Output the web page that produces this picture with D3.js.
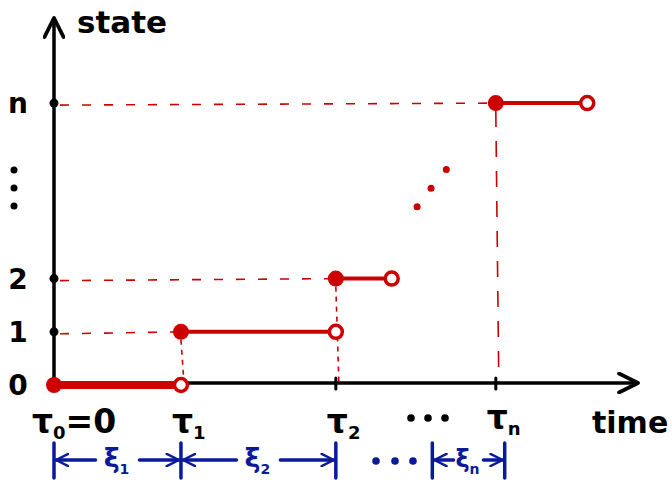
<!DOCTYPE html>
<html>
<head>
<meta charset="utf-8">
<script src="https://cdn.jsdelivr.net/npm/d3@7"></script>
<style>
  body { margin: 0; background: #fff; }
  svg { display: block; }
  text { font-family: "DejaVu Sans", sans-serif; font-weight: bold; }
</style>
</head>
<body>
<div id="chart"></div>
<script>
// states reached at each jump (n drawn well above 2, with a gap)
const stateLabels = ["0", "1", "2", "n"];
const stateLevels = [0, 1, 2, 5.3];
// jump times tau_0 .. tau_n and where each held segment ends
const tauLabels = [["τ", "0", "=0"], ["τ", "1", ""], ["τ", "2", ""], ["τ", "n", ""]];
const jumpTimes = [0, 1, 2.22, 3.48];
const segmentEnds = [1, 2.22, 2.66, 4.2];
// holding time brackets  xi_1, xi_2, xi_n
const holdLabels = ["1", "2", "n"];
const holdStarts = [0, 1, 2.98];
const holdEnds = [1, 2.22, 3.55];

const W = 672, H = 490;
const red = "#cc0000", blue = "#0a1a9a";

const svg = d3.select("#chart").append("svg")
    .attr("width", W).attr("height", H);

const x = d3.scaleLinear().domain([0, 4.6]).range([54, 638]);
const y = d3.scaleLinear().domain([0, 6.9]).range([385, 18]);

// arrow markers
const defs = svg.append("defs");
function arrowMarker(id, color, size) {
    defs.append("marker")
        .attr("id", id)
        .attr("viewBox", "0 0 12 12")
        .attr("refX", 11).attr("refY", 6)
        .attr("markerWidth", size).attr("markerHeight", size)
        .attr("markerUnits", "strokeWidth")
        .attr("orient", "auto-start-reverse")
        .append("path")
        .attr("d", "M1,1 L11,6 L1,11")
        .attr("fill", "none")
        .attr("stroke", color)
        .attr("stroke-width", 2)
        .attr("stroke-linecap", "round")
        .attr("stroke-linejoin", "round");
}
arrowMarker("ax", "black", 6.5);
arrowMarker("bl", blue, 4.2);

// dashed guides: horizontal from the axis, vertical down to the jump time
const guides = svg.append("g")
    .attr("stroke", red)
    .attr("stroke-width", 1.6)
    .attr("fill", "none")
    .attr("stroke-dasharray", "9,13");

guides.selectAll("line.h")
    .data(d3.range(1, stateLevels.length))
    .join("line")
    .attr("class", "h")
    .attr("x1", x(0) + 6).attr("x2", i => x(jumpTimes[i]))
    .attr("y1", i => y(stateLevels[i]) + 2).attr("y2", i => y(stateLevels[i]));

guides.selectAll("line.v")
    .data(d3.range(1, stateLevels.length))
    .join("line")
    .attr("class", "v")
    .attr("stroke-dasharray", i => i === 3 ? "16,14" : "5,5")
    .attr("x1", i => x(jumpTimes[i])).attr("x2", i => x(jumpTimes[i]) + 3)
    .attr("y1", i => y(stateLevels[i]) + 8).attr("y2", y(0) - 3);

// axes
svg.append("line")
    .attr("x1", x(0)).attr("x2", x(4.6))
    .attr("y1", y(0) - 2).attr("y2", y(0) - 2)
    .attr("stroke", "black").attr("stroke-width", 3.5)
    .attr("marker-end", "url(#ax)");
svg.append("line")
    .attr("x1", x(0)).attr("x2", x(0))
    .attr("y1", y(0) + 4).attr("y2", y(6.9))
    .attr("stroke", "black").attr("stroke-width", 3.5)
    .attr("marker-end", "url(#ax)");

svg.append("text").attr("x", 77).attr("y", 33)
    .attr("font-size", 31).text("state");
svg.append("text").attr("x", 592).attr("y", 433)
    .attr("font-size", 30).text("time");

// y tick dots and labels
svg.selectAll("circle.ytick")
    .data(stateLevels.slice(1))
    .join("circle")
    .attr("class", "ytick")
    .attr("cx", x(0)).attr("cy", d => y(d))
    .attr("r", 4.5).attr("fill", "black");

svg.selectAll("text.ylab")
    .data(stateLabels)
    .join("text")
    .attr("class", "ylab")
    .attr("x", 18).attr("y", (d, i) => y(stateLevels[i]))
    .attr("dy", "0.36em")
    .attr("text-anchor", "middle")
    .attr("font-size", 28)
    .text(d => d);

// vertical ellipsis on the y axis
svg.selectAll("circle.vdots")
    .data([170, 188, 206])
    .join("circle")
    .attr("class", "vdots")
    .attr("cx", 14).attr("cy", d => d)
    .attr("r", 3.5).attr("fill", "black");

// x tick marks
svg.selectAll("line.xtick")
    .data(jumpTimes.slice(2))
    .join("line")
    .attr("class", "xtick")
    .attr("x1", d => x(d)).attr("x2", d => x(d))
    .attr("y1", y(0) - 7).attr("y2", y(0) + 4)
    .attr("stroke", "black").attr("stroke-width", 3)
    .attr("stroke-linecap", "round");

// tau labels
const tl = svg.selectAll("text.tau")
    .data(tauLabels)
    .join("text")
    .attr("class", "tau")
    .attr("x", (d, i) => i === 0 ? 32 : x(jumpTimes[i]) - 9)
    .attr("y", (d, i) => i === 3 ? 429 : 433)
    .attr("font-size", 33);
tl.append("tspan").text(d => d[0]);
tl.append("tspan").attr("font-size", 18).attr("dy", 6).text(d => d[1]);
tl.append("tspan").attr("dy", -6).text(d => d[2]);

// horizontal ellipsis under the time axis
svg.selectAll("circle.xdots")
    .data([411, 428, 445])
    .join("circle")
    .attr("class", "xdots")
    .attr("cx", d => d).attr("cy", 418)
    .attr("r", 3.8).attr("fill", "black");

// step segments
svg.selectAll("line.seg")
    .data(d3.range(stateLevels.length))
    .join("line")
    .attr("class", "seg")
    .attr("x1", i => x(jumpTimes[i])).attr("x2", i => x(segmentEnds[i]))
    .attr("y1", i => y(stateLevels[i])).attr("y2", i => y(stateLevels[i]))
    .attr("stroke", red)
    .attr("stroke-width", i => i === 0 ? 8 : 4)
    .attr("stroke-linecap", "round");

svg.selectAll("circle.closed")
    .data(d3.range(stateLevels.length))
    .join("circle")
    .attr("class", "closed")
    .attr("cx", i => x(jumpTimes[i])).attr("cy", i => y(stateLevels[i]))
    .attr("r", 8).attr("fill", red);

svg.selectAll("circle.open")
    .data(d3.range(stateLevels.length))
    .join("circle")
    .attr("class", "open")
    .attr("cx", i => x(segmentEnds[i])).attr("cy", i => y(stateLevels[i]))
    .attr("r", 6.5).attr("fill", "white")
    .attr("stroke", red).attr("stroke-width", 3.5);

// diagonal ellipsis between 2 and n
svg.selectAll("circle.ddots")
    .data([[2.86, 3.35], [2.97, 3.7], [3.09, 4.05]])
    .join("circle")
    .attr("class", "ddots")
    .attr("cx", d => x(d[0])).attr("cy", d => y(d[1]))
    .attr("r", 3.5).attr("fill", red);

// holding time brackets
const by = 460;
const br = svg.append("g").attr("stroke", blue).attr("stroke-width", 3.5)
    .attr("stroke-linecap", "round").attr("fill", "none");

const bars = Array.from(new Set(holdStarts.concat(holdEnds)));
br.selectAll("line.bar")
    .data(bars)
    .join("line")
    .attr("class", "bar")
    .attr("x1", d => x(d)).attr("x2", d => x(d))
    .attr("y1", by - 17).attr("y2", by + 18);

holdLabels.forEach((lab, i) => {
    const a = x(holdStarts[i]), b = x(holdEnds[i]);
    const mid = (a + b) / 2;
    const gap = i === 2 ? 15 : 22;
    br.append("line")
        .attr("x1", mid - gap).attr("x2", a + 2)
        .attr("y1", by).attr("y2", by)
        .attr("marker-end", "url(#bl)");
    br.append("line")
        .attr("x1", mid + gap).attr("x2", b - 2)
        .attr("y1", by).attr("y2", by)
        .attr("marker-end", "url(#bl)");
    const t = svg.append("text")
        .attr("x", mid - 1).attr("y", by + 7)
        .attr("text-anchor", "middle")
        .attr("fill", blue)
        .attr("font-size", i === 2 ? 24 : 27);
    t.append("tspan").text("ξ");
    t.append("tspan").attr("font-size", 14).attr("dy", 7).text(lab);
});

svg.selectAll("circle.bdots")
    .data([376, 395, 413])
    .join("circle")
    .attr("class", "bdots")
    .attr("cx", d => d).attr("cy", by + 1)
    .attr("r", 3.8).attr("fill", blue);
</script>
</body>
</html>
